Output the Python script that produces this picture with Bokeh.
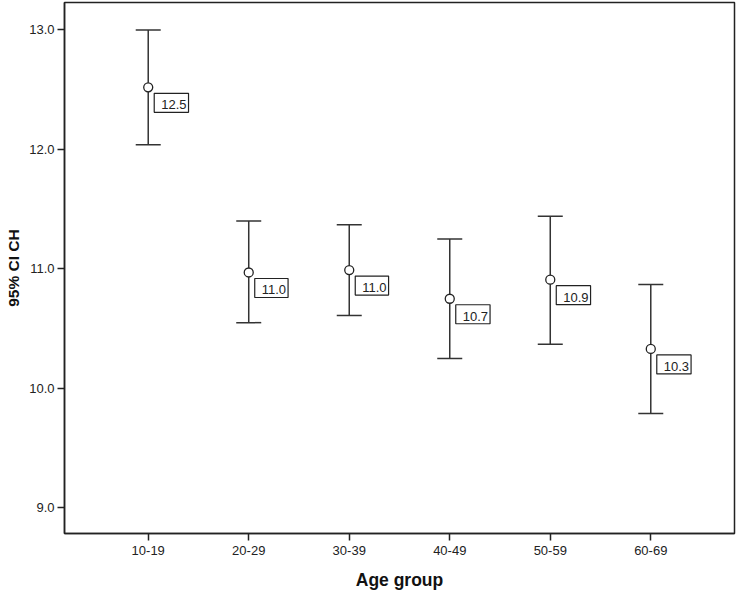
from bokeh.plotting import figure
from bokeh.models import (ColumnDataSource, FactorRange, Range1d, Whisker, TeeHead,
                          FixedTicker, NumeralTickFormatter)
from bokeh.core.properties import value
from bokeh.embed import file_html
from bokeh.resources import INLINE

groups = ["10-19", "20-29", "30-39", "40-49", "50-59", "60-69"]
means = [12.52, 10.97, 10.99, 10.75, 10.91, 10.33]
lower = [12.04, 10.55, 10.61, 10.25, 10.37, 9.79]
upper = [13.00, 11.40, 11.37, 11.25, 11.44, 10.87]
mean_labels = ["12.5", "11.0", "11.0", "10.7", "10.9", "10.3"]
y_ticks = [9.0, 10.0, 11.0, 12.0, 13.0]

src = ColumnDataSource(dict(g=groups, m=means, lo=lower, up=upper, lab=mean_labels))

FONT = "Liberation Sans"
INK = "#222222"

p = figure(x_range=FactorRange(factors=groups, range_padding=0.111),
           y_range=Range1d(8.785, 13.23),
           frame_width=670, frame_height=531,
           min_border_left=64, min_border_right=3, min_border_top=2, min_border_bottom=57,
           output_backend="svg", toolbar_location=None)

p.xgrid.visible = False
p.ygrid.visible = False
p.outline_line_color = INK
p.outline_line_width = 1.5
p.background_fill_color = "white"
p.border_fill_color = "white"

whisk = Whisker(source=src, base="g", lower="lo", upper="up",
                line_color="#333333", line_width=1.5,
                upper_head=TeeHead(size=25, line_color="#333333", line_width=1.5),
                lower_head=TeeHead(size=25, line_color="#333333", line_width=1.5))
p.add_layout(whisk)

p.scatter(x="g", y="m", source=src, marker="circle", size=9,
          fill_color="white", line_color=INK, line_width=1.3)

p.text(x="g", y="m", text="lab", source=src, x_offset=6, y_offset=6,
       text_align="left", text_baseline="top", text_font=value(FONT),
       text_font_size="13px", text_color=INK,
       background_fill_color="white", border_line_color=INK,
       border_line_width=1.2, padding=(7, 2, 7, 3))

for ax in (p.xaxis[0], p.yaxis[0]):
    ax.axis_line_color = INK
    ax.axis_line_width = 1.5
    ax.major_tick_line_color = INK
    ax.major_tick_line_width = 1.5
    ax.major_tick_out = 7
    ax.major_tick_in = 0
    ax.minor_tick_line_color = None
    ax.major_label_text_font = FONT
    ax.major_label_text_font_size = "13px"
    ax.major_label_text_color = INK
    ax.axis_label_text_font = FONT
    ax.axis_label_text_font_style = "bold"
    ax.axis_label_text_color = "#111111"

p.yaxis.ticker = FixedTicker(ticks=y_ticks)
p.yaxis.formatter = NumeralTickFormatter(format="0.0")
p.yaxis.major_label_standoff = 3
p.yaxis.axis_label = "95% CI CH"
p.yaxis.axis_label_text_font_size = "15.5px"
p.yaxis.axis_label_standoff = 4

p.xaxis.major_label_standoff = 5
p.xaxis.axis_label = "Age group"
p.xaxis.axis_label_text_font_size = "17.5px"
p.xaxis.axis_label_standoff = 12

open("out.html", "w").write(file_html(p, INLINE))
